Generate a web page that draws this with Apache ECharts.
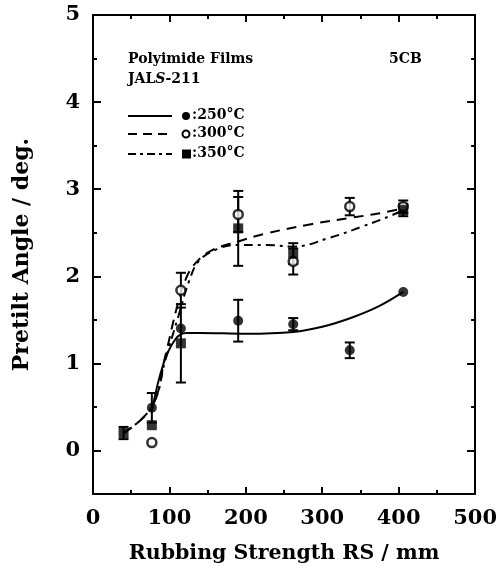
<!DOCTYPE html>
<html><head><meta charset="utf-8">
<script src="https://cdn.jsdelivr.net/npm/echarts@6/dist/echarts.min.js"></script>
<style>html,body{margin:0;padding:0;background:#fff}#c{width:500px;height:569px}</style>
</head><body><div id="c"></div>
<script>
// ---- data ----
var x250 = [77, 115, 190, 262, 336, 406];
var y250 = [0.49, 1.40, 1.49, 1.45, 1.15, 1.82];
var e250 = [0.17, 0, 0.24, 0.07, 0.09, 0];

var x300 = [77, 115, 190, 262, 336, 406];
var y300 = [0.09, 1.84, 2.71, 2.17, 2.80, 2.80];
var e300 = [0, 0.20, 0.20, 0.15, 0.10, 0.07];

var x350 = [40, 77, 115, 190, 262, 406];
var y350 = [0.20, 0.29, 1.23, 2.55, 2.26, 2.76];
var e350 = [0.07, 0, 0.45, 0.43, 0.12, 0.07];

// fitted curves (traced)
var fx250 = [77, 92, 108, 122, 140, 200, 262, 300, 340, 375, 406];
var fy250 = [0.45, 0.99, 1.28, 1.35, 1.35, 1.34, 1.36, 1.42, 1.53, 1.66, 1.82];
var fx300 = [40, 77, 95, 110, 122, 135, 156, 190, 226, 287, 336, 373, 406];
var fy300 = [0.20, 0.50, 1.10, 1.65, 1.98, 2.16, 2.30, 2.40, 2.49, 2.60, 2.67, 2.72, 2.78];
var fx350 = [40, 77, 95, 112, 126, 139, 165, 190, 226, 262, 309, 352, 391, 406];
var fy350 = [0.20, 0.50, 1.05, 1.55, 1.95, 2.18, 2.32, 2.36, 2.36, 2.34, 2.44, 2.57, 2.70, 2.76];

var yMajor = [0, 1, 2, 3, 4, 5];
var yMinor = [0.5, 1.5, 2.5, 3.5, 4.5];
var xTickLabels = [0, 100, 200, 300, 400, 500];

function zip(a, b) { return a.map(function (v, i) { return [v, b[i]]; }); }
function errs(a, b, e) {
  var out = [];
  a.forEach(function (v, i) { if (e[i] > 0) out.push([v, b[i] - e[i], b[i] + e[i]]); });
  return out;
}
var FONT = 'DejaVu Serif';
function errSeries(data) {
  return {
    type: 'custom', xAxisIndex: 0, yAxisIndex: 0, z: 3,
    renderItem: function (params, api) {
      var lo = api.coord([api.value(0), api.value(1)]);
      var hi = api.coord([api.value(0), api.value(2)]);
      var w = 5;
      var st = { stroke: '#000', lineWidth: 2 };
      return { type: 'group', children: [
        { type: 'line', shape: { x1: lo[0], y1: lo[1], x2: hi[0], y2: hi[1] }, style: st },
        { type: 'line', shape: { x1: lo[0] - w, y1: lo[1], x2: lo[0] + w, y2: lo[1] }, style: st },
        { type: 'line', shape: { x1: hi[0] - w, y1: hi[1], x2: hi[0] + w, y2: hi[1] }, style: st }
      ]};
    },
    encode: { x: 0, y: [1, 2] },
    data: data
  };
}
function yAx(pos, ticks, len, labels) {
  return {
    type: 'value', min: -0.5, max: 5, position: pos,
    axisLine: { show: true, onZero: false, lineStyle: { color: '#000', width: 2 } },
    axisTick: { show: true, inside: true, length: len, customValues: ticks, lineStyle: { color: '#000', width: 2 } },
    axisLabel: labels ? { show: true, customValues: yMajor, color: '#000', fontFamily: FONT, fontWeight: 'bold', fontSize: 21, margin: 13 } : { show: false },
    splitLine: { show: false },
    name: labels ? 'Pretilt Angle / deg.' : '',
    nameLocation: 'middle', nameGap: 60, nameRotate: 90,
    nameTextStyle: { color: '#000', fontFamily: FONT, fontWeight: 'bold', fontSize: 22 }
  };
}
function xAx(pos, labels) {
  return {
    type: 'value', min: 0, max: 500, interval: 100, position: pos,
    axisLine: { show: true, onZero: false, lineStyle: { color: '#000', width: 2 } },
    axisTick: { show: true, inside: true, length: 7, lineStyle: { color: '#000', width: 2 } },
    minorTick: { show: true, splitNumber: 2, length: 4, lineStyle: { color: '#000', width: 2 } },
    axisLabel: labels ? { show: true, customValues: xTickLabels, color: '#000', fontFamily: FONT, fontWeight: 'bold', fontSize: 21, margin: 14 } : { show: false },
    splitLine: { show: false }, minorSplitLine: { show: false },
    name: labels ? 'Rubbing Strength RS / mm' : '',
    nameLocation: 'middle', nameGap: 49,
    nameTextStyle: { color: '#000', fontFamily: FONT, fontWeight: 'bold', fontSize: 20.5 }
  };
}
var chart = echarts.init(document.getElementById('c'));
var LF = 'bold 14px "DejaVu Serif"';
var legRows = [
  { y: 116, dash: 'solid', sym: 'circleF', label: ':250°C' },
  { y: 134, dash: [9, 6], sym: 'circleO', label: ':300°C' },
  { y: 154, dash: [8, 4, 3, 4], sym: 'square', label: ':350°C' }
];
var graphics = [
  { type: 'text', left: 128, top: 52, style: { text: 'Polyimide Films', fill: '#000', font: LF } },
  { type: 'text', left: 128, top: 72, style: { rich: { a: { font: LF, fill: '#000' }, i: { font: 'italic ' + LF, fill: '#000' } }, text: '{a|JAL}{i|S}{a|-211}' } },
  { type: 'text', left: 389, top: 52, style: { text: '5CB', fill: '#000', font: LF } }
];
legRows.forEach(function (r) {
  graphics.push({ type: 'line', shape: { x1: 128, y1: r.y, x2: 172, y2: r.y }, style: { stroke: '#000', lineWidth: 2, lineDash: r.dash === 'solid' ? null : r.dash } });
  if (r.sym === 'circleF') graphics.push({ type: 'circle', shape: { cx: 186, cy: r.y, r: 4 }, style: { fill: '#000' } });
  if (r.sym === 'circleO') graphics.push({ type: 'circle', shape: { cx: 186, cy: r.y, r: 3.5 }, style: { fill: '#fff', stroke: '#000', lineWidth: 2 } });
  if (r.sym === 'square') graphics.push({ type: 'rect', shape: { x: 182, y: r.y - 4.5, width: 9, height: 9 }, style: { fill: '#000' } });
  graphics.push({ type: 'text', left: 192, top: r.y - 8, style: { text: r.label, fill: '#000', font: LF } });
});
chart.setOption({
  animation: false,
  backgroundColor: '#fff',
  grid: { left: 93, right: 24, top: 15, bottom: 73, containLabel: false },
  xAxis: [xAx('bottom', true), xAx('top', false)],
  yAxis: [yAx('left', yMajor, 8, true), yAx('left', yMinor, 4, false), yAx('right', yMajor, 8, false), yAx('right', yMinor, 4, false)],
  graphic: graphics,
  series: [
    { name: '250°C fit', type: 'line', smooth: 0.4, symbol: 'none', data: zip(fx250, fy250), lineStyle: { color: '#000', width: 2, type: 'solid' }, z: 2 },
    { name: '300°C fit', type: 'line', smooth: 0.4, symbol: 'none', data: zip(fx300, fy300), lineStyle: { color: '#000', width: 2, type: [10, 7] }, z: 2 },
    { name: '350°C fit', type: 'line', smooth: 0.4, symbol: 'none', data: zip(fx350, fy350), lineStyle: { color: '#000', width: 2, type: [9, 5, 3, 5] }, z: 2 },
    errSeries(errs(x250, y250, e250)),
    errSeries(errs(x300, y300, e300)),
    errSeries(errs(x350, y350, e350)),
    { name: '250°C', type: 'scatter', symbol: 'circle', symbolSize: 10, data: zip(x250, y250), itemStyle: { color: '#000' }, z: 5 },
    { name: '300°C', type: 'scatter', symbol: 'circle', symbolSize: 9, data: zip(x300, y300), itemStyle: { color: '#fff', borderColor: '#000', borderWidth: 2.5 }, z: 5 },
    { name: '350°C', type: 'scatter', symbol: 'rect', symbolSize: 10, data: zip(x350, y350), itemStyle: { color: '#000' }, z: 6 }
  ]
});
</script></body></html>
